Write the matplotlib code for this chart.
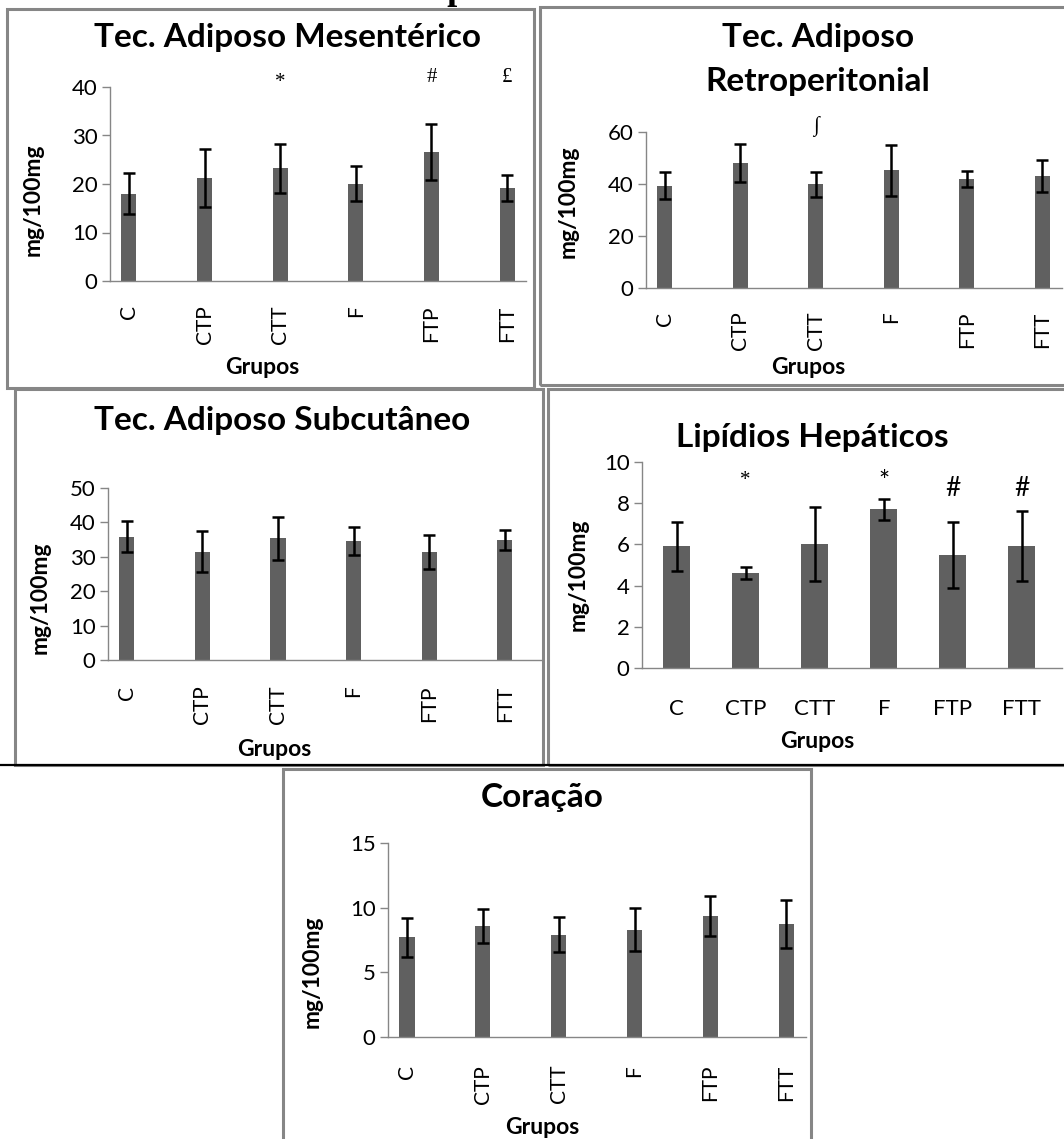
# Lipidios totais - paineis por tecido

import matplotlib
matplotlib.use('Agg')
import matplotlib.pyplot as plt
from matplotlib.patches import Rectangle
from matplotlib.lines import Line2D

plt.rcParams['font.family'] = ['Lato', 'DejaVu Sans']

W, H = 1064, 1139

grupos = ['C', 'CTP', 'CTT', 'F', 'FTP', 'FTT']

mes_val = [18.0, 21.3, 23.2, 20.1, 26.6, 19.1]
mes_err = [4.2, 6.0, 5.0, 3.6, 5.8, 2.7]

ret_val = [39.4, 48.0, 39.9, 45.2, 42.0, 43.0]
ret_err = [5.3, 7.3, 4.8, 9.7, 3.0, 6.2]

sub_val = [35.9, 31.5, 35.4, 34.7, 31.3, 34.9]
sub_err = [4.5, 6.0, 6.3, 4.1, 4.9, 2.9]

hep_val = [5.9, 4.6, 6.0, 7.7, 5.5, 5.9]
hep_err = [1.2, 0.3, 1.8, 0.5, 1.6, 1.7]

cor_val = [7.7, 8.6, 7.9, 8.3, 9.35, 8.75]
cor_err = [1.5, 1.3, 1.35, 1.65, 1.55, 1.85]

# significance marks: (group index, y value, symbol, serif?)
mes_marks = [(2, 41.0, '*', True), (4, 42.0, '#', True), (5, 42.0, '£', True)]
ret_marks = [(2, 62.0, '∫', True)]
hep_marks = [(1, 9.1, '*', True), (3, 9.0, '*', False), (4, 8.7, '#', False), (5, 8.7, '#', False)]

GRAY = '#868686'
BAR = '#606060'
SERIF = ['Liberation Serif', 'DejaVu Serif']

fig = plt.figure(figsize=(W / 100, H / 100), dpi=100)


def fx(x):
    return x / W


def fy(y):
    return 1 - y / H


def ftext(x, y, s, **kw):
    fig.text(fx(x), fy(y), s, ha='center', va='center', **kw)


def box(l, t, r, b, color=GRAY, lw=2.2):
    fig.patches.append(Rectangle((fx(l), fy(b)), (r - l) / W, (b - t) / H,
                                 transform=fig.transFigure, fill=False,
                                 ec=color, lw=lw))


def panel(rect, vals, errs, ymax, ystep, xlim, width, rotate, pad, marks=()):
    l, r, t, b = rect
    ax = fig.add_axes([fx(l), fy(b), (r - l) / W, (b - t) / H])
    x = range(len(grupos))
    ax.bar(x, vals, width=width, color=BAR, zorder=2)
    ax.errorbar(x, vals, yerr=errs, fmt='none', ecolor='black',
                elinewidth=1.8, capsize=4.3, capthick=1.8, zorder=3)
    ax.set_ylim(0, ymax)
    ax.set_yticks(range(0, ymax + 1, ystep))
    ax.set_xlim(*xlim)
    ax.set_xticks(list(x))
    if rotate:
        ax.set_xticklabels(grupos, rotation=90, fontsize=15)
    else:
        ax.set_xticklabels(grupos, fontsize=16)
    ax.tick_params(axis='x', length=0, pad=pad)
    ax.tick_params(axis='y', length=6, width=1, color=GRAY, labelsize=16, pad=3)
    for s in ['top', 'right']:
        ax.spines[s].set_visible(False)
    for s in ['left', 'bottom']:
        ax.spines[s].set_color(GRAY)
        ax.spines[s].set_linewidth(1)
    ax.set_facecolor('none')
    for i, yv, sym, serif in marks:
        if serif:
            ax.text(i, yv, sym, ha='center', va='center', fontsize=15,
                    family=SERIF, clip_on=False)
        else:
            ax.text(i, yv, sym, ha='center', va='center', fontsize=19,
                    clip_on=False)
    return ax


# cut title at the top of the page
fig.text(fx(527), fy(-1), 'Lipídios Totais', ha='center', va='baseline',
         fontsize=26, fontweight='bold', family=SERIF)

# frames
box(7, 9, 534, 388)
box(540, 7, 1066, 385)
box(15, 389, 543, 765)
box(548, 389, 1066, 765)
box(283, 769, 811, 1150)
fig.lines.append(Line2D([0, 1], [fy(765), fy(765)], transform=fig.transFigure,
                        color='black', lw=1.6))

LAB = dict(fontsize=16.5, fontweight='bold')
TIT = dict(fontsize=24, fontweight='bold')

# Mesenterico
panel((110, 526, 87, 281), mes_val, mes_err, 40, 10, (-0.25, 5.25), 0.2, True, 17.5,
      mes_marks)
ftext(288, 38, 'Tec. Adiposo Mesentérico', **TIT)
ftext(33, 200, 'mg/100mg', rotation=90, **LAB)
ftext(262, 368, 'Grupos', **LAB)

# Retroperitonial
panel((646, 1062, 132, 288), ret_val, ret_err, 60, 20, (-0.25, 5.26), 0.2, True, 17,
      ret_marks)
ftext(818, 37, 'Tec. Adiposo', **TIT)
ftext(818, 82, 'Retroperitonial', **TIT)
ftext(568, 202, 'mg/100mg', rotation=90, **LAB)
ftext(808, 368, 'Grupos', **LAB)

# Subcutaneo
panel((108, 541, 488, 660), sub_val, sub_err, 50, 10, (-0.25, 5.48), 0.2, True, 18.5)
ftext(282, 420, 'Tec. Adiposo Subcutâneo', **TIT)
ftext(40, 598, 'mg/100mg', rotation=90, **LAB)
ftext(274, 749, 'Grupos', **LAB)

# Hepaticos
panel((642, 1062, 462, 668), hep_val, hep_err, 10, 2, (-0.5, 5.58), 0.39, False, 22,
      hep_marks)
ftext(812, 437, 'Lipídios Hepáticos', **TIT)
ftext(578, 575, 'mg/100mg', rotation=90, **LAB)
ftext(817, 742, 'Grupos', **LAB)

# Coracao
panel((388, 806, 843, 1037), cor_val, cor_err, 15, 5, (-0.25, 5.26), 0.2, True, 20)
ftext(542, 798, 'Coração', **TIT)
ftext(312, 972, 'mg/100mg', rotation=90, **LAB)
ftext(542, 1128, 'Grupos', **LAB)

fig.savefig('out.png', dpi=100)
